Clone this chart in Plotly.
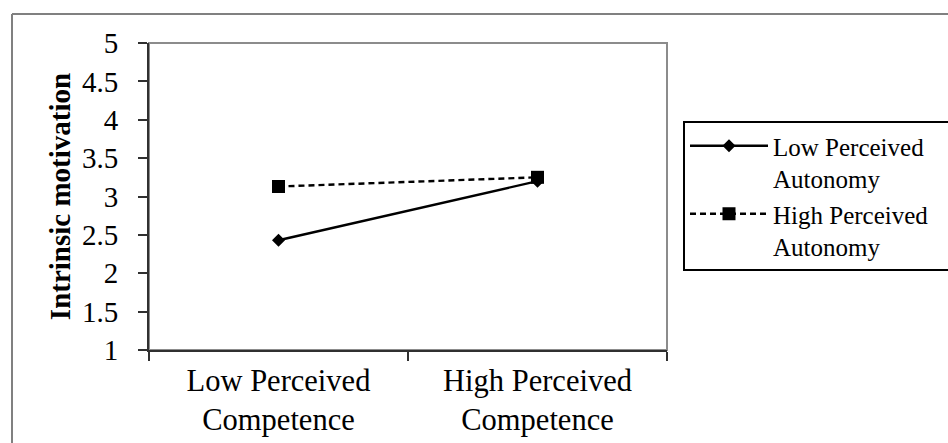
import plotly.graph_objects as go

categories = ["Low Perceived<br>Competence", "High Perceived<br>Competence"]
series_names = ["Low Perceived&nbsp;&nbsp;&nbsp;<br>Autonomy", "High Perceived&nbsp;&nbsp;<br>Autonomy"]
low_autonomy = [2.43, 3.20]
high_autonomy = [3.13, 3.25]
y_ticks = [1, 1.5, 2, 2.5, 3, 3.5, 4, 4.5, 5]
y_ticktext = ["1", "1.5", "2", "2.5", "3", "3.5", "4", "4.5", "5"]

FONT = "Liberation Serif, Times New Roman, serif"

fig = go.Figure()
fig.add_trace(go.Scatter(
    x=categories, y=low_autonomy, name=series_names[0], mode="lines+markers",
    line=dict(color="black", width=2.4),
    marker=dict(symbol="diamond", size=10, color="black"),
))
fig.add_trace(go.Scatter(
    x=categories, y=high_autonomy, name=series_names[1], mode="lines+markers",
    line=dict(color="black", width=2.4, dash="6px,4px"),
    marker=dict(symbol="square", size=13, color="black"),
))

L, R, T, B = 149, 281, 43, 93
W, H = 948, 443
pw, ph = W - L - R, H - T - B

def px_x(p):
    return (p - L) / pw

def px_y(p):
    return (H - B - p) / ph

fig.update_layout(
    width=W, height=H,
    margin=dict(l=L, r=R, t=T, b=B, autoexpand=False),
    paper_bgcolor="white", plot_bgcolor="white",
    font=dict(family=FONT, size=29, color="black"),
    showlegend=True,
    legend=dict(
        x=px_x(683), y=px_y(121), xanchor="left", yanchor="top",
        bordercolor="black", borderwidth=2, bgcolor="white",
        font=dict(family=FONT, size=25, color="black"),
        valign="top", itemwidth=78,
    ),
    xaxis=dict(
        type="category", range=[-0.5, 1.5], showgrid=False,
        showline=True, linecolor="#303030", linewidth=2,
        ticks="outside", tickson="boundaries", ticklen=9, tickwidth=1.5,
        tickcolor="#303030", ticklabelstandoff=2,
        tickfont=dict(family=FONT, size=30.5),
        zeroline=False,
    ),
    yaxis=dict(
        range=[1, 5], tickvals=y_ticks, ticktext=y_ticktext, showgrid=False,
        showline=True, linecolor="#303030", linewidth=2,
        ticks="outside", ticklen=9, tickwidth=1.5, tickcolor="#303030",
        ticklabelstandoff=14,
        tickfont=dict(family=FONT, size=29),
        title=dict(text="<b>Intrinsic motivation</b>", font=dict(family=FONT, size=29), standoff=3),
        zeroline=False,
    ),
    shapes=[
        dict(type="rect", xref="paper", yref="paper", x0=0, x1=1, y0=0, y1=1,
             line=dict(color="#8c8c8c", width=2), layer="below"),
        dict(type="line", xref="paper", yref="paper",
             x0=px_x(12), x1=px_x(948), y0=px_y(14), y1=px_y(14),
             line=dict(color="#808080", width=2)),
        dict(type="line", xref="paper", yref="paper",
             x0=px_x(12), x1=px_x(12), y0=px_y(14), y1=px_y(443),
             line=dict(color="#808080", width=2)),
    ],
)

fig.write_html(
    "out.html",
    config={"displayModeBar": False},
    post_script="document.body.style.margin='0px';document.body.style.overflow='hidden';",
)
